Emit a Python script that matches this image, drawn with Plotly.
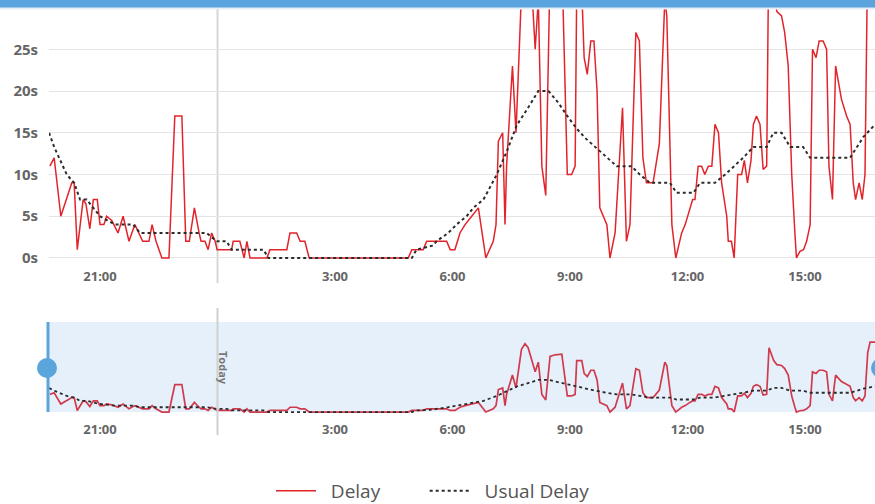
import plotly.graph_objects as go

# ---- data (time in hours since 00:00 of the previous day; 24 = midnight "Today") ----
delay_hours = [19.72, 19.83, 20.00, 20.28, 20.34, 20.42, 20.57, 20.64, 20.74, 20.83, 20.93,
               21.00, 21.10, 21.17, 21.30, 21.46, 21.59, 21.74, 21.89, 22.09, 22.25, 22.33,
               22.43, 22.58, 22.76, 22.91, 23.09, 23.19, 23.28, 23.41, 23.53, 23.58, 23.68,
               23.76, 23.85, 23.94, 23.99, 24.36, 24.40, 24.57, 24.68, 24.75, 24.83, 25.26,
               25.34, 25.77, 25.85, 26.02, 26.11, 26.23, 26.34, 28.87, 28.96, 29.25, 29.34,
               29.85, 29.94, 30.06, 30.19, 30.32, 30.49, 30.66, 30.85, 31.04, 31.11, 31.17,
               31.28, 31.34, 31.38, 31.53, 31.62, 31.76, 31.85, 31.93, 32.11, 32.19, 32.28,
               32.38, 32.49, 32.62, 32.79, 32.93, 33.04, 33.13, 33.17, 33.30, 33.36, 33.44,
               33.53, 33.61, 33.69, 33.76, 33.94, 34.02, 34.15, 34.34, 34.44, 34.53, 34.68,
               34.77, 34.86, 34.95, 35.12, 35.28, 35.42, 35.47, 35.60, 35.70, 35.85, 35.94,
               36.06, 36.13, 36.19, 36.27, 36.36, 36.44, 36.53, 36.62, 36.70, 36.79, 36.87,
               37.00, 37.04, 37.12, 37.19, 37.28, 37.38, 37.45, 37.53, 37.62, 37.68, 37.76,
               37.85, 37.93, 38.02, 38.08, 38.20, 38.28, 38.40, 38.48, 38.57, 38.66, 38.74,
               38.78, 38.87, 38.96, 39.04, 39.13, 39.19, 39.28, 39.36, 39.46, 39.55, 39.61,
               39.70, 39.78, 39.93, 40.06, 40.15, 40.23, 40.29, 40.38, 40.46, 40.53, 40.60,
               40.66, 40.79]
delay_values = [11, 12, 5, 9, 9, 1, 7, 6.5, 3.5, 7, 7,
                4, 4, 5, 4.5, 3, 5, 2, 4, 2, 2, 4,
                2, 0, 0, 17, 17, 2, 2, 6, 3, 2, 2,
                1, 3, 2, 1, 1, 2, 2, 0, 2, 0, 0,
                1, 1, 3, 3, 2, 2, 0, 0, 1, 1, 2,
                2, 1, 1, 3, 4, 5, 6, 0, 2, 4, 14,
                15, 4, 11, 23, 15, 39, 42.5, 40, 25, 31, 11,
                7.5, 34.6, 35.6, 36, 10, 10, 11, 32, 32, 24, 22,
                26, 26, 20, 6, 4, 0, 3, 18, 2, 4, 27,
                26, 12, 9, 9, 13.7, 31, 29, 4, 0, 3, 4,
                6, 7, 7, 11, 11, 10, 11, 11, 16, 15, 9,
                5, 2, 2, 0, 10, 10, 11.7, 9, 11.7, 16, 17,
                16, 10.6, 11, 40, 32, 29.5, 29, 27, 23, 10, 3,
                0, 0.8, 1, 2, 4, 25, 24, 26, 26, 25, 11,
                7, 23, 19, 17, 16, 9, 7, 9, 7, 10, 37,
                43.5, 43.5]

usual_hours = [19.70, 19.83, 20.15, 20.34, 20.49, 20.66, 21.00, 21.38, 21.85, 22.02, 23.72,
               23.98, 24.23, 24.36, 25.17, 25.30, 28.96, 29.08, 29.51, 29.59, 29.89, 30.10,
               30.36, 30.53, 30.79, 31.13, 31.38, 31.64, 31.89, 32.19, 32.45, 32.70, 32.96,
               33.17, 33.38, 33.64, 33.94, 34.19, 34.57, 34.78, 35.04, 35.55, 35.72, 36.15,
               36.32, 36.70, 36.96, 37.42, 37.68, 38.02, 38.19, 38.40, 38.62, 38.95, 39.13,
               40.15, 40.49, 40.79]
usual_values = [15, 13.3, 10, 9, 7, 7, 5, 4, 4, 3, 3,
                2, 2, 1, 1, 0, 0, 1, 1.5, 2, 3, 4,
                5, 6, 7, 10, 12.7, 15.9, 17.7, 20, 20, 18.6, 16.8,
                15.5, 14.4, 13.3, 12, 11, 11, 10, 9, 9, 7.8, 7.8,
                9, 9, 10, 12, 13.3, 13.3, 15, 15, 13.3, 13.3, 12,
                12, 14.5, 16]

tick_hours = [21, 27, 30, 33, 36, 39]
tick_labels = ["21:00", "3:00", "6:00", "9:00", "12:00", "15:00"]
y_ticks = [0, 5, 10, 15, 20, 25, 30]
y_labels = ["0s", "5s", "10s", "15s", "20s", "25s", "30s"]
today_hour = 24
series_names = ["Delay", "Usual Delay"]

# ---- geometry helpers (pixel -> paper) ----
W, H = 875, 504
def px(x):
    return x / W
def py(y):
    return 1 - y / H

RED = "#e2242a"
NAV_RED = "#d13a4c"
DOT = "#2b2b2b"
GRAY = "#666666"
NB = "\u00a0"

fig = go.Figure()
fig.add_trace(go.Scatter(x=delay_hours, y=delay_values, mode="lines",
                         name=NB * 2 + series_names[0] + NB * 8,
                         line=dict(color=RED, width=1.5), xaxis="x", yaxis="y"))
fig.add_trace(go.Scatter(x=usual_hours, y=usual_values, mode="lines",
                         name=NB * 2 + series_names[1],
                         line=dict(color=DOT, width=2, dash="dot"), xaxis="x", yaxis="y"))
fig.add_trace(go.Scatter(x=delay_hours, y=delay_values, mode="lines", showlegend=False,
                         line=dict(color=NAV_RED, width=1.7), xaxis="x2", yaxis="y2"))
fig.add_trace(go.Scatter(x=usual_hours, y=usual_values, mode="lines", showlegend=False,
                         line=dict(color=DOT, width=1.8, dash="dot"), xaxis="x2", yaxis="y2"))

xrange = [21 + (49 - 100) / 39.17, 21 + (875 - 100) / 39.17]
tickfont_x = dict(family="Open Sans", size=13, color=GRAY, weight="bold")

fig.update_layout(
    width=W, height=H,
    margin=dict(l=0, r=0, t=0, b=0, autoexpand=False),
    paper_bgcolor="white", plot_bgcolor="rgba(0,0,0,0)",
    xaxis=dict(domain=[px(49), 1], range=xrange, tickvals=tick_hours, ticktext=tick_labels,
               showgrid=False, zeroline=False, showline=False, ticks="",
               tickfont=tickfont_x, ticklabelstandoff=4, anchor="y", fixedrange=True),
    yaxis=dict(domain=[py(263), py(7.5)], range=[-0.6, 30], tickvals=y_ticks, ticktext=y_labels,
               showgrid=True, gridcolor="#e4e4e4", gridwidth=1, zeroline=False, ticks="",
               tickfont=dict(family="Open Sans", size=15, color=GRAY, weight="bold"),
               ticklabelstandoff=10, anchor="x"),
    xaxis2=dict(domain=[px(49), 1], range=xrange, tickvals=tick_hours, ticktext=tick_labels,
                showgrid=False, zeroline=False, showline=False, ticks="",
                tickfont=tickfont_x, ticklabelstandoff=6, anchor="y2"),
    yaxis2=dict(domain=[py(413.5), py(322)], range=[-0.9, 56], showticklabels=False,
                showgrid=False, zeroline=False, ticks="", anchor="x2"),
    showlegend=True,
    legend=dict(orientation="h", x=px(271), xanchor="left", y=py(491), yanchor="middle",
                font=dict(family="Open Sans", size=19, color="#555555"),
                itemwidth=40, bgcolor="rgba(0,0,0,0)", tracegroupgap=0),
)

shapes = []
# navigator shaded area
shapes.append(dict(type="rect", xref="paper", yref="paper", x0=px(48), x1=1, y0=py(412), y1=py(322),
                   fillcolor="#e6f0fa", line=dict(width=0), layer="below"))
# "Today" lines
shapes.append(dict(type="line", xref="x", yref="paper", x0=today_hour, x1=today_hour,
                   y0=py(283), y1=py(0), line=dict(color="#d6d6d6", width=2), layer="below"))
shapes.append(dict(type="line", xref="x2", yref="paper", x0=today_hour, x1=today_hour,
                   y0=py(435), y1=py(308), line=dict(color="#d0d0d0", width=2), layer="above"))
# navigator handles
shapes.append(dict(type="line", xref="paper", yref="paper", x0=px(48), x1=px(48),
                   y0=py(412), y1=py(322), line=dict(color="#5aa5dc", width=3)))
shapes.append(dict(type="circle", xref="paper", yref="paper", x0=px(37), x1=px(57),
                   y0=py(378), y1=py(358), fillcolor="#5aa5dc", line=dict(width=0)))
shapes.append(dict(type="circle", xref="paper", yref="paper", x0=px(871), x1=px(891),
                   y0=py(378), y1=py(358), fillcolor="#5aa5dc", line=dict(width=0)))
# top blue bar
shapes.append(dict(type="rect", xref="paper", yref="paper", x0=0, x1=1, y0=py(9.5), y1=py(7),
                   fillcolor="#e3eef8", line=dict(width=0)))
shapes.append(dict(type="rect", xref="paper", yref="paper", x0=0, x1=1, y0=py(7.5), y1=1,
                   fillcolor="#5aa3dc", line=dict(width=0)))
fig.update_layout(shapes=shapes)

fig.add_annotation(x=px(224), y=py(368), xref="paper", yref="paper", text="Today",
                   textangle=90, showarrow=False, xanchor="center", yanchor="middle",
                   font=dict(family="Open Sans", size=11, color="#777777", weight="bold"))

fig.write_html("out.html", config={"displayModeBar": False},
               post_script="document.body.style.margin='0';")
